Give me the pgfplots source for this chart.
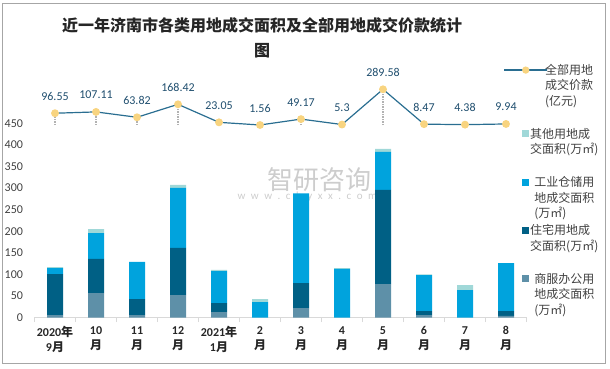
\documentclass[border=0pt]{standalone}
\usepackage{fontspec}
\setmainfont{Carlito}
\newfontfamily\cjk{Noto Sans CJK SC}
\usepackage{pgfplots}
\pgfplotsset{compat=1.18}
\usepackage{pgfplotstable}

\definecolor{cShang}{RGB}{94,144,168}
\definecolor{cZhu}{RGB}{0,96,133}
\definecolor{cGong}{RGB}{0,163,221}
\definecolor{cQi}{RGB}{160,216,216}
\definecolor{cLine}{RGB}{42,110,145}
\definecolor{cMark}{RGB}{248,212,128}
\definecolor{cLab}{RGB}{31,78,110}
\definecolor{cTxt}{RGB}{64,64,64}
\definecolor{cAx}{RGB}{217,217,217}
\definecolor{cFrame}{RGB}{166,166,166}
\definecolor{cWm}{RGB}{205,205,205}

\pgfplotstableread{
x shang zhu gong qi
0 6 95 14 2
1 57 79 60 9
2 6 37 86 0
3 52.5 109 139 7
4 13 21 74 2.5
5 0 0 36 7
6 22 58 208 0
7 0 0 113 2
8 78 218 88 7
9 6 9 83.5 2
10 0 0 64 11.6
11 4 11.5 111 0
}\bars

\pgfplotstableread{
x v lab
0 96.55 96.55
1 107.11 107.11
2 63.82 63.82
3 168.42 168.42
4 23.05 23.05
5 1.56 1.56
6 49.17 49.17
7 5.3 5.3
8 289.58 289.58
9 8.47 8.47
10 4.38 4.38
11 9.94 9.94
}\price

\pgfplotsset{sq legend/.style={legend image code/.code={%
  \path[draw=none,fill=none] (0pt,-3.5pt) rectangle (7pt,3.5pt);
  \fill[##1,draw=none,overlay] (0pt,12pt) rectangle (7pt,19pt);}}}

\newcommand{\ind}{\hspace*{9.7pt}}

\begin{document}
\begin{tikzpicture}[x=1pt,y=1pt]
\path[use as bounding box] (0,0) rectangle (610,369);
\draw[cFrame, line width=0.8pt] (2.7,5.7) rectangle (605,365.7);
\node[align=center, font=\cjk\bfseries\fontsize{16}{25}\selectfont, text=black!85] at (262,331.5)
  {近一年济南市各类用地成交面积及全部用地成交价款统计\\图};
% watermark
\node[font=\cjk\fontsize{26}{28}\selectfont, text=cWm, anchor=west] at (264,189) {智研咨询};
\node[font=\fontsize{11}{12}\selectfont, text=cWm, anchor=west] at (234,172) {w\,\,\,w\,\,\,w\,\,\,.\,\,\,c\,\,\,h\,\,\,y\,\,\,x\,\,\,x\,\,\,.\,\,\,c\,\,\,o\,\,\,m};

\begin{axis}[
  at={(34.5pt,51.3pt)}, anchor=south west,
  scale only axis, width=492pt, height=194.4pt,
  ybar stacked, bar width=16pt,
  xmin=-0.5, xmax=11.5, ymin=0, ymax=450,
  axis x line*=bottom, axis y line*=left,
  y axis line style={draw=none},
  x axis line style={cAx, line width=1pt},
  ytick={0,50,...,450},
  ytick style={draw=none},
  xtick={0,...,11},
  xtick style={draw=none},
  extra x ticks={-0.5,0.5,...,11.5},
  extra x tick labels={},
  extra x tick style={xtick style={draw=cAx, line width=1pt}, major tick length=4.5pt, tick align=outside},
  xticklabels={{2020{\cjk 年}\\9{\cjk 月}},{10\\{\cjk 月}},{11\\{\cjk 月}},{12\\{\cjk 月}},{2021{\cjk 年}\\1{\cjk 月}},{2\\{\cjk 月}},{3\\{\cjk 月}},{4\\{\cjk 月}},{5\\{\cjk 月}},{6\\{\cjk 月}},{7\\{\cjk 月}},{8\\{\cjk 月}}},
  xticklabel style={align=center, font=\bfseries\fontsize{12}{15}\selectfont, text=black!85, yshift=-5pt},
  yticklabel style={font=\fontsize{12}{14}\selectfont, text=cTxt, xshift=-8pt},
  /pgf/number format/assume math mode=true,
  reverse legend,
  legend style={draw=none, fill=none, inner sep=0pt, at={(0.9909,1.31)}, anchor=north west,
    row sep=3.7pt, column sep=0pt, font=\cjk\fontsize{12}{15.5}\selectfont, text=cTxt,
    cells={align=left}, nodes={inner sep=1pt}},
  clip=false,
]
\addplot[fill=cShang, draw=none, sq legend] table[x=x,y=shang]{\bars};
\addlegendentry{商服办公用\\地成交面积\\(万㎡)}
\addplot[fill=cZhu, draw=none, sq legend] table[x=x,y=zhu]{\bars};
\addlegendentry{住宅用地成\\交面积(万㎡)\\\mbox{}}
\addplot[fill=cGong, draw=none, sq legend] table[x=x,y=gong]{\bars};
\addlegendentry{工业仓储用\\地成交面积\\(万㎡)}
\addplot[fill=cQi, draw=none, sq legend] table[x=x,y=qi]{\bars};
\addlegendentry{其他用地成\\交面积(万㎡)\\\mbox{}}
\addlegendimage{legend image code/.code={%
  \path[draw=none,fill=none] (0pt,-3.5pt) rectangle (7pt,3.5pt);
  \begin{scope}[overlay, yshift=23.25pt]
  \draw[cLine, fill=none, line width=1.2pt, mark=*, mark size=3pt, mark options={fill=cMark, draw=cMark}, mark repeat=2, mark phase=2]
     plot coordinates {(-10pt,0pt) (3.5pt,0pt) (17pt,0pt)};
  \end{scope}}}
\addlegendentry{\ind 全部用地\\\ind 成交价款\\\ind (亿元)\\\mbox{}}
\end{axis}

\begin{axis}[
  at={(34.5pt,243.8pt)}, anchor=south west,
  scale only axis, width=492pt, height=37.2pt,
  xmin=-0.5, xmax=11.5, ymin=0, ymax=300,
  hide axis, clip=false,
]
\addplot[ycomb, draw=black!30, densely dotted, line width=1.5pt] table[x=x,y=v]{\price};
\addplot[cLine, line width=1.2pt, mark=*, mark size=3.3pt, mark options={fill=cMark, draw=cMark},
  nodes near coords, point meta=explicit symbolic,
  every node near coord/.style={anchor=base, yshift=13pt, inner sep=0pt, font=\fontsize{12}{14}\selectfont, text=cLab}]
  table[x=x,y=v,meta=lab]{\price};
\end{axis}
\end{tikzpicture}
\end{document}
